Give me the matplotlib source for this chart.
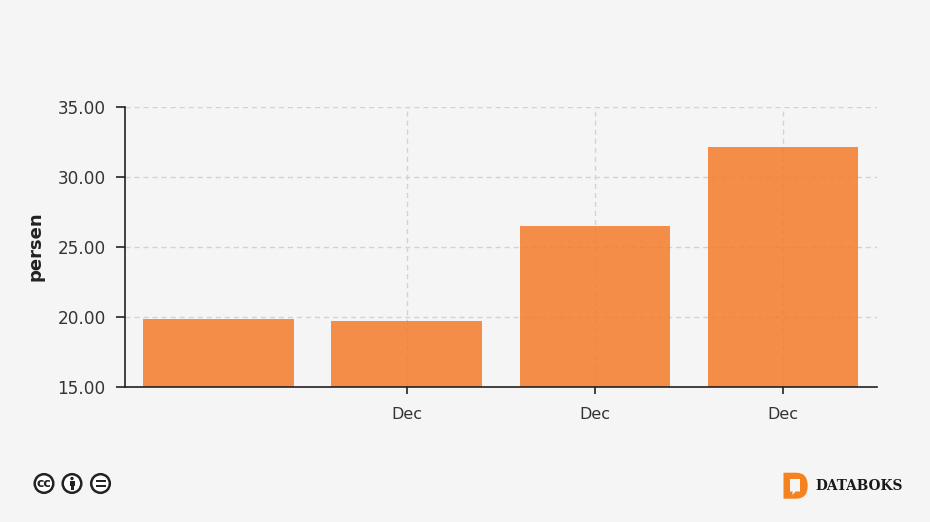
"""Databoks bar chart: persen per December."""

import matplotlib
matplotlib.use("Agg")
import matplotlib.pyplot as plt
from matplotlib.patches import Circle, PathPatch, Rectangle
from matplotlib.path import Path

BG = "#f5f5f5"
INK = "#222222"
ORANGE = "#f47b2a"

tick_positions = [1, 2, 3]
tick_labels = ["Dec", "Dec", "Dec"]
bar_positions = [0, 1, 2, 3]
values = [19.8, 19.7, 26.45, 32.1]
y_ticks = [15, 20, 25, 30, 35]

fig = plt.figure(figsize=(9.3, 5.22), dpi=100, facecolor=BG)
ax = fig.add_axes([124.5 / 930, 1 - 386.6 / 522, 752.5 / 930, 280 / 522], facecolor=BG)

ax.bar(bar_positions, values, width=0.8, color=ORANGE, alpha=0.85, zorder=3,
       edgecolor="none")
ax.set_xlim(-0.5, 3.5)
ax.set_ylim(15, 35)

ax.set_yticks(y_ticks)
ax.set_yticklabels([f"{v:.2f}" for v in y_ticks])
ax.set_xticks(tick_positions)
ax.set_xticklabels(tick_labels)
ax.tick_params(axis="y", length=6.5, width=1.2, color=INK, labelsize=12.2, labelcolor="#333333", pad=7)
ax.tick_params(axis="x", length=5, width=1.2, color=INK, labelsize=11.5, labelcolor="#333333", pad=10)
ax.grid(True, color="#d2d2d2", linewidth=1, linestyle=(0, (3.6, 2.9)), zorder=4)
ax.set_axisbelow(False)

for side in ["top", "right"]:
    ax.spines[side].set_visible(False)
for side in ["left", "bottom"]:
    ax.spines[side].set_color(INK)
    ax.spines[side].set_linewidth(1.2)
    ax.spines[side].set_zorder(5)

fig.text(35 / 930, 1 - 246 / 522, "persen", rotation=90, ha="center", va="center",
         fontsize=13, fontweight="bold", color=INK)

# footer drawn in pixel coordinates
ov = fig.add_axes([0, 0, 1, 1], facecolor="none")
ov.set_xlim(0, 930)
ov.set_ylim(522, 0)
ov.axis("off")

# licence badges
for cx in [44, 72, 100.5]:
    ov.add_patch(Circle((cx, 483.5), 9.3, facecolor="white", edgecolor=INK, linewidth=1.8))
ov.text(44, 483.7, "cc", ha="center", va="center", fontsize=9, fontweight="bold", color=INK)
ov.add_patch(Circle((72, 478.5), 1.7, facecolor=INK, edgecolor="none"))
ov.add_patch(Rectangle((69.5, 480.5), 5, 5.5, facecolor=INK, edgecolor="none"))
ov.add_patch(Rectangle((70.5, 486), 3, 4, facecolor=INK, edgecolor="none"))
ov.add_patch(Rectangle((95.5, 480.3), 10, 2, facecolor=INK, edgecolor="none"))
ov.add_patch(Rectangle((95.5, 484.7), 10, 2, facecolor=INK, edgecolor="none"))

# databoks mark
mark = Path(
    [(783.5, 472.7), (796, 472.7), (807.7, 472.7), (807.7, 485.7),
     (807.7, 498.7), (796, 498.7), (783.5, 498.7), (783.5, 472.7)],
    [Path.MOVETO, Path.LINETO, Path.CURVE3, Path.CURVE3,
     Path.CURVE3, Path.CURVE3, Path.LINETO, Path.CLOSEPOLY],
)
ov.add_patch(PathPatch(mark, facecolor="#f58220", edgecolor="none"))
bubble = Path(
    [(790, 479), (800, 479), (800, 491.5), (795.5, 491.5), (792.5, 495),
     (792.5, 491.5), (790, 491.5), (790, 479)],
    [Path.MOVETO] + [Path.LINETO] * 6 + [Path.CLOSEPOLY],
)
ov.add_patch(PathPatch(bubble, facecolor=BG, edgecolor="none"))
ov.text(815.5, 486, "DATABOKS", ha="left", va="center", fontsize=9.9, fontweight="bold",
        family="DejaVu Serif", color="#1a1a1a")

fig.savefig("out.png", dpi=100, facecolor=BG)
